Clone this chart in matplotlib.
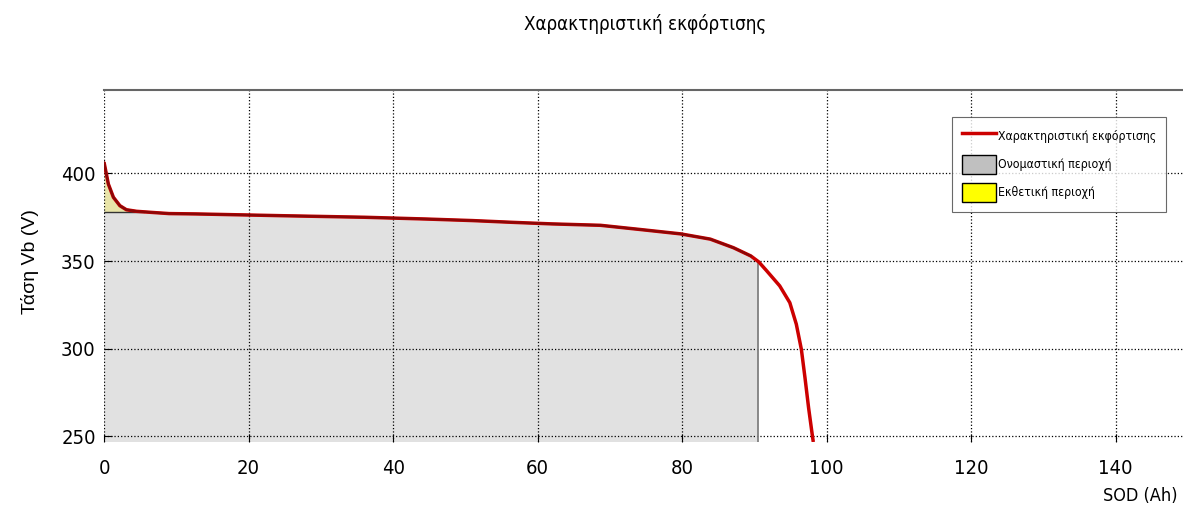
import numpy as np
import matplotlib
matplotlib.use("Agg")
import matplotlib.pyplot as plt
from matplotlib.patches import Patch
from matplotlib.lines import Line2D

# discharge curve
sod = [0, 0.6, 1.3, 2.2, 3.1, 4.5, 6.5, 9, 12.7, 24.5, 36, 44.5, 51, 56.5, 62, 68.7, 74.2,
       79.8, 83.9, 87.1, 89.5, 90.6, 91.7, 93.5, 94.9, 95.8, 96.5, 97.0, 97.5, 98.0, 98.15]
volt = [406.5, 394, 386.4, 381.6, 379.3, 378.4, 377.8, 377.1, 376.9, 375.9, 375.0, 374.0,
        373.1, 372.1, 371.2, 370.4, 368.0, 365.5, 362.5, 357.6, 352.9, 349.5, 344.4,
        335.8, 326.2, 313.9, 299.5, 283.3, 266.1, 250.9, 246.6]

v_nom = 377.8      # nominal voltage line (end of exponential zone)
sod_exp = 5.5      # end of exponential zone
sod_nom = 90.5     # end of nominal zone

title = "Χαρακτηριστική εκφόρτισης"
legend_labels = ["Χαρακτηριστική εκφόρτισης", "Ονομαστική περιοχή", "Εκθετική περιοχή"]
xticks = [0, 20, 40, 60, 80, 100, 120, 140]
yticks = [250, 300, 350, 400]

plt.rcParams['font.family'] = ['DejaVu Sans']
plt.rcParams['font.stretch'] = 'condensed'

fig = plt.figure(figsize=(11.83, 5.28), dpi=100)
ax = fig.add_axes([104 / 1183, 1 - 442 / 528, (1188 - 104) / 1183, (442 - 90) / 528])

x = np.array(sod)
y = np.array(volt)

# fills under the read curve
xf = np.linspace(0, sod_nom, 600)
yf = np.interp(xf, x, y)
ax.fill_between(xf, 0, np.minimum(yf, v_nom), color='#e1e1e1', lw=0)
ax.plot([sod_nom, sod_nom], [0, np.interp(sod_nom, x, y)], color='#808080', lw=1.3)

xe = np.linspace(0, sod_exp, 200)
ye = np.interp(xe, x, y)
ax.fill_between(xe, v_nom, np.maximum(ye, v_nom), color='#e8e4a8', lw=0)
ax.plot([0, sod_exp], [v_nom, v_nom], color='#333333', lw=1.0)

ax.plot(x, y, color='#cc0000', lw=2.5, solid_capstyle='butt', solid_joinstyle='round')
m = x <= sod_nom
ax.plot(x[m], y[m], color='#7a0a0a', lw=1.7, alpha=0.8, solid_joinstyle='round')

ax.set_xlim(0, 150)
ax.set_ylim(246.6, 447.7)
ax.set_xticks(xticks)
ax.set_yticks(yticks)
ax.grid(True, color='black', linestyle=':', linewidth=0.9)
ax.tick_params(direction='in', length=6, labelsize=14.5, pad=12)
ax.tick_params(axis='y', pad=6)
for s in ['top', 'right']:
    ax.spines[s].set_color('#666666')
    ax.spines[s].set_linewidth(1.5)
ax.spines['left'].set_visible(False)
ax.spines['bottom'].set_visible(False)

handles = [Line2D([0], [0], color='#cc0000', lw=2.5),
           Patch(facecolor='#c0c0c0', edgecolor='black'),
           Patch(facecolor='#ffff00', edgecolor='black')]
leg = fig.legend(handles, legend_labels, loc='upper right', bbox_to_anchor=(1166 / 1183, 1 - 117 / 528),
                 prop=dict(size=8.8, stretch='condensed'), frameon=True, fancybox=False,
                 edgecolor='#444444', handlelength=2.8, handleheight=2.0, borderpad=0.8,
                 labelspacing=0.75, handletextpad=0.15, borderaxespad=0)
leg.get_frame().set_linewidth(0.8)

fig.text(645 / 1183, 1 - 24 / 528, title, ha='center', va='center', fontsize=13.5)
fig.text(30 / 1183, 1 - 262 / 528, "Τάση Vb (V)", rotation=90, ha='center', va='center',
         fontsize=14, family=['Liberation Sans', 'DejaVu Sans'], stretch='normal')
fig.text(1140 / 1183, 1 - 496 / 528, "SOD (Ah)", ha='center', va='center', fontsize=13)

fig.savefig("out.png", dpi=100)
